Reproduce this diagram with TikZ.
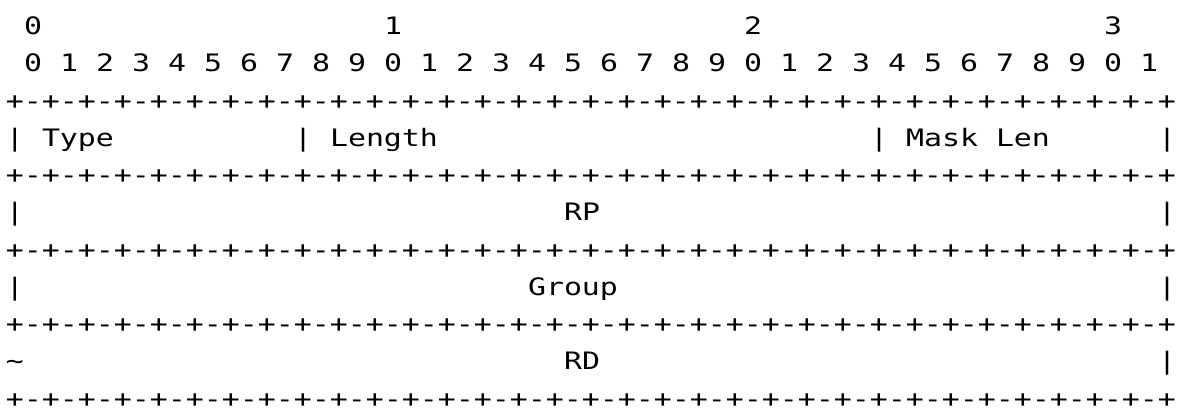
\documentclass[tikz,border=0pt]{standalone}
\usepackage{fontspec}
\newfontfamily\monofnt{DejaVu Sans Mono}
\tikzset{
  cell/.style={anchor=base west, inner sep=0pt, outer sep=0pt,
    font=\monofnt\fontsize{12pt}{14pt}\selectfont, xscale=1.2457, text=black},
}
% column c, row k -> pixel position of left edge / baseline
\newcommand\cpos[2]{({6+18*(#1)},{34.7+37.25*(#2)})}
\begin{document}
\begin{tikzpicture}[x=0.5pt,y=-0.5pt]
\useasboundingbox (0,0) rectangle (1183,412);
% bit numbering, tens
\node[cell] (t0) at \cpos{1}{0} {0};
\node[cell] (t1) at \cpos{21}{0} {1};
\node[cell] (t2) at \cpos{41}{0} {2};
\node[cell] (t3) at \cpos{61}{0} {3};
% bit numbering, units
\foreach \i in {0,...,31}{
  \pgfmathtruncatemacro\dig{mod(\i,10)}
  \node[cell] (u\i) at \cpos{2*\i+1}{1} {\dig};
}
% border lines
\foreach \r in {2,4,6,8,10}{
  \node[cell] (h\r) at \cpos{0}{\r} {+-+-+-+-+-+-+-+-+-+-+-+-+-+-+-+-+-+-+-+-+-+-+-+-+-+-+-+-+-+-+-+-+};
}
% row 3
\node[cell] (s30) at \cpos{0}{3} {|};
\node[cell] (type) at \cpos{2}{3} {Type};
\node[cell] (s31) at \cpos{16}{3} {|};
\node[cell] (len) at \cpos{18}{3} {Length};
\node[cell] (s32) at \cpos{48}{3} {|};
\node[cell] (mlen) at \cpos{50}{3} {Mask Len};
\node[cell] (s33) at \cpos{64}{3} {|};
% row 5
\node[cell] (s50) at \cpos{0}{5} {|};
\node[cell] (rp) at \cpos{31}{5} {RP};
\node[cell] (s51) at \cpos{64}{5} {|};
% row 7
\node[cell] (s70) at \cpos{0}{7} {|};
\node[cell] (grp) at \cpos{29}{7} {Group};
\node[cell] (s71) at \cpos{64}{7} {|};
% row 9
\node[cell] (s90) at \cpos{0}{9} {\textasciitilde};
\node[cell] (rd) at \cpos{31}{9} {RD};
\node[cell] (s91) at \cpos{64}{9} {|};
\end{tikzpicture}
\end{document}
